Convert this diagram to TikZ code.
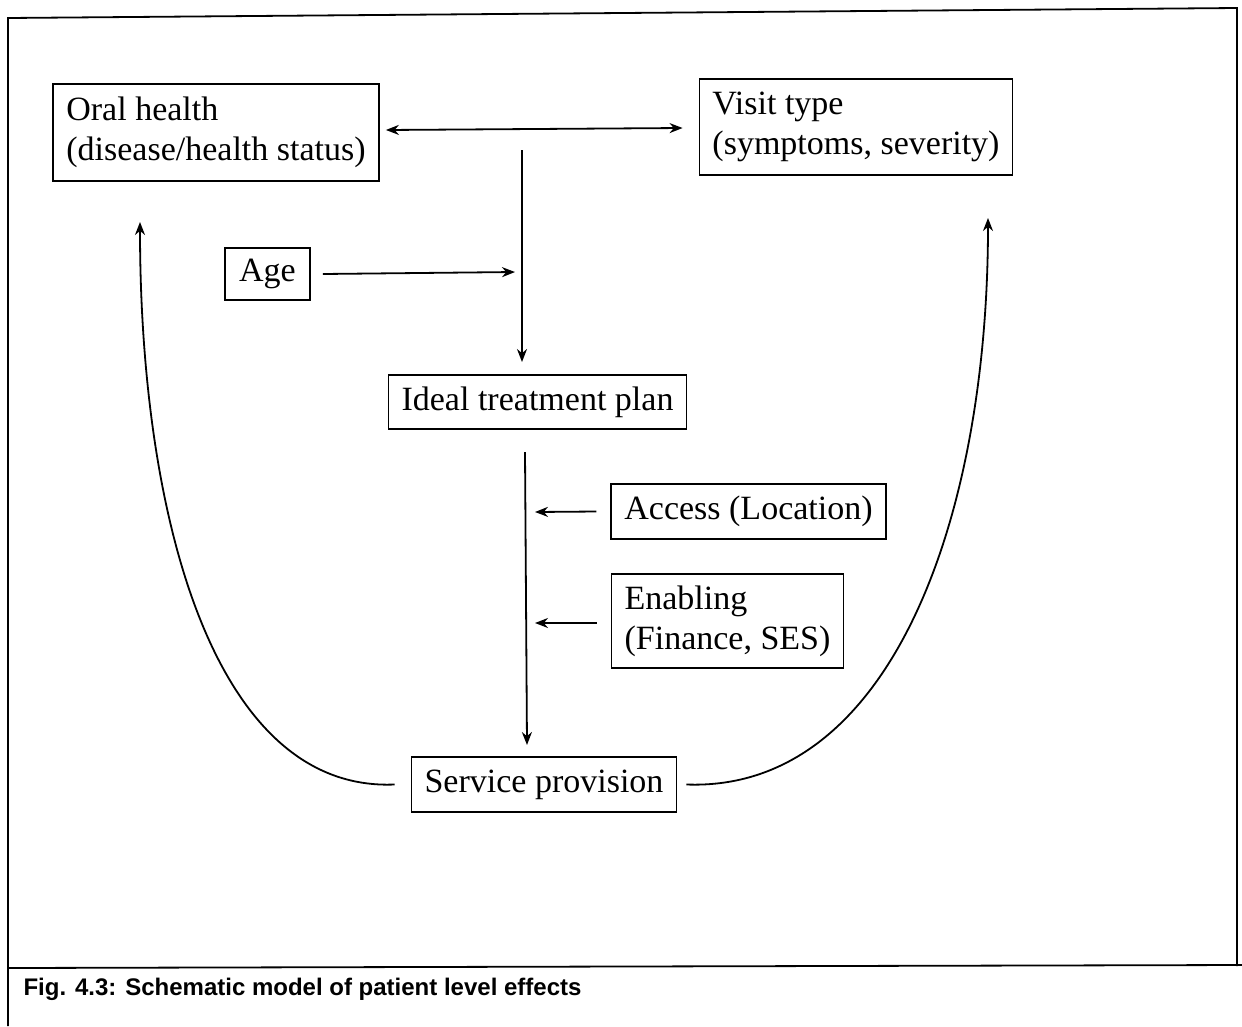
\documentclass[tikz,border=0pt]{standalone}
\usepackage{fontspec}
\setmainfont{Liberation Serif}
\newfontfamily\capfont{Liberation Sans}
\usetikzlibrary{arrows.meta}
\begin{document}
\begin{tikzpicture}[x=1pt,y=-1pt,
  box/.style={draw,line width=1.8pt,inner xsep=13pt,inner ysep=0pt,font=\fontsize{34}{40}\selectfont},
  tip/.tip={Stealth[length=13pt,width=10pt]},
  link/.style={line width=1.8pt,-tip},
  frame/.style={line width=1.8pt}]
\useasboundingbox (0,0) rectangle (1242,1026);
% outer frame and caption rule
\draw[frame] (8,1026) -- (8,18) -- (1237,8) -- (1237,966);
\draw[frame] (8,968) -- (1242,965);
\node[anchor=west,font=\capfont\bfseries\fontsize{24}{27}\selectfont] (cap) at (20,989) {Fig. 4.3: Schematic model of patient level effects};
% boxes
\node[box,minimum width=326pt,minimum height=97pt,align=left] (oral) at (216,132.5) {Oral health\\(disease/health status)};
\node[box,minimum width=312pt,minimum height=96pt,align=left] (visit) at (856,127) {Visit type\\(symptoms, severity)};
\node[box,minimum width=85pt,minimum height=52pt] (age) at (267.5,274) {Age};
\node[box,minimum width=295pt,minimum height=54pt] (ideal) at (537.5,402) {Ideal treatment plan};
\node[box,minimum width=273pt,minimum height=55pt] (access) at (748.5,511.5) {Access (Location)};
\node[box,minimum width=231pt,minimum height=94pt,align=left] (enab) at (727.5,621) {Enabling\\(Finance, SES)};
\node[box,minimum width=262pt,minimum height=55pt] (serv) at (544,784.5) {Service provision};
% connector end points
\coordinate (d1) at (522,150);
\coordinate (d2) at (522,362);
\coordinate (a1) at (515,272);
\coordinate (e1) at (525,452);
\coordinate (e2) at (527,745);
\coordinate (ac) at (535,512);
\coordinate (en) at (535,623);
\coordinate (lt) at (140,222);
\coordinate (rt) at (988,218);
% connectors
\draw[line width=1.8pt,tip-tip] ([xshift=6pt]oral.east |- 0,130) -- ([xshift=-16pt]visit.west |- 0,128);
\draw[link] (d1) -- (d2);
\draw[link] ([xshift=12pt]age.east) -- (a1);
\draw[link] (e1) -- (e2);
\draw[link] ([xshift=-14pt]access.west) -- (ac);
\draw[link] ([xshift=-14pt]enab.west |- en) -- (en);
\draw[link] ([xshift=-16pt]serv.west) .. controls (215,792) and (140,520) .. (lt);
\draw[link] ([xshift=9pt]serv.east) .. controls (890,792) and (988,520) .. (rt);
\end{tikzpicture}
\end{document}
